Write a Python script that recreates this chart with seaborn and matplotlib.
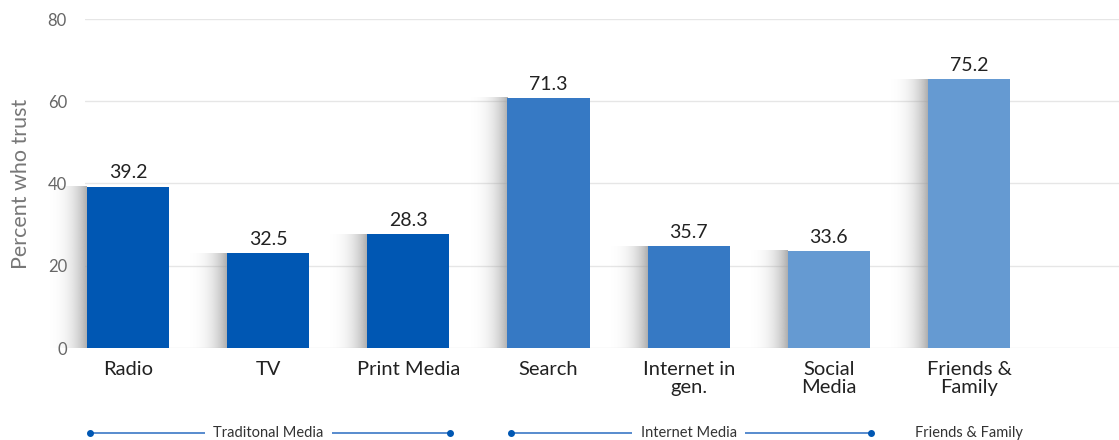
import numpy as np
import pandas as pd
import matplotlib
matplotlib.use("Agg")
import matplotlib.pyplot as plt
import seaborn as sns
from matplotlib.colors import to_rgb

# data
categories = ["Radio", "TV", "Print Media", "Search", "Internet in\ngen.", "Social\nMedia", "Friends &\nFamily"]
bar_heights = [39.2, 23.1, 27.7, 60.8, 24.8, 23.6, 65.4]
value_labels = ["39.2", "32.5", "28.3", "71.3", "35.7", "33.6", "75.2"]
bar_colors = ["#0057b3", "#0057b3", "#0057b3", "#3679c4", "#3679c4", "#659ad2", "#659ad2"]
y_ticks = [0, 20, 40, 60, 80]

groups = ["Traditonal Media", "Internet Media", "Friends & Family"]
group_start = [0, 3, 6]
group_end = [2, 5, 6]

sns.set_style("white")
plt.rcParams["font.family"] = ["Lato", "DejaVu Sans"]

fig = plt.figure(figsize=(11.19, 4.4), dpi=100)
ax = fig.add_axes([85 / 1119, 92 / 440, 1034 / 1119, 329 / 440])

df = pd.DataFrame({"cat": categories, "val": bar_heights})
sns.barplot(data=df, x="cat", y="val", hue="cat", palette=bar_colors,
            saturation=1, width=0.586, linewidth=0, edgecolor="none",
            legend=False, ax=ax, zorder=3)

# soft shadow on the left of each bar
half = 0.586 / 2
shade = np.linspace(0, 1, 200) ** 3
rgba = np.zeros((1, 200, 4))
rgba[..., :3] = to_rgb("#9a9a9a")
rgba[..., 3] = shade * 0.8
for i, h in enumerate(bar_heights):
    ax.imshow(rgba, extent=[i - half - 0.32, i - half, 0, h], aspect="auto",
              zorder=2, clip_on=False, interpolation="bilinear")

# value labels
for i, h in enumerate(bar_heights):
    ax.text(i, h + 1.3, value_labels[i], ha="center", va="bottom",
            fontsize=14, color="#222222", zorder=4)

ax.set_xlim(-0.307, 7.07)
ax.set_ylim(0, 80)
ax.set_yticks(y_ticks)
ax.set_yticklabels([str(t) for t in y_ticks], fontsize=12, color="#666666")
ax.tick_params(axis="y", length=0, pad=13)
ax.tick_params(axis="x", length=0, pad=9, labelsize=14.5, labelcolor="#222222")
ax.grid(axis="y", color="#e6e6e6", linewidth=1, zorder=0)
ax.set_axisbelow(True)
for s in ax.spines.values():
    s.set_visible(False)
ax.set_xlabel("")
ax.set_ylabel("Percent who trust", fontsize=15.5, color="#777777", labelpad=12)
for lab in ax.get_xticklabels():
    lab.set_linespacing(1.1)

# group brackets under the axis
trans = matplotlib.transforms.blended_transform_factory(ax.transData, ax.transAxes)
yb = -0.258
for name, a, b in zip(groups, group_start, group_end):
    mid = (a + b) / 2
    if b > a:
        x0, x1 = a - 0.27, b + 0.3
        ax.plot([x0, x1], [yb, yb], color="#3b78c6", linewidth=1.2,
                transform=trans, clip_on=False, zorder=1)
        ax.plot([x0, x1], [yb, yb], "o", color="#0057b3", markersize=4,
                transform=trans, clip_on=False, zorder=2)
    ax.text(mid, yb, name, ha="center", va="center", fontsize=10.5,
            color="#333333", transform=trans, zorder=3,
            bbox=dict(facecolor="white", edgecolor="none", pad=6))

fig.savefig("out.png", dpi=100)
